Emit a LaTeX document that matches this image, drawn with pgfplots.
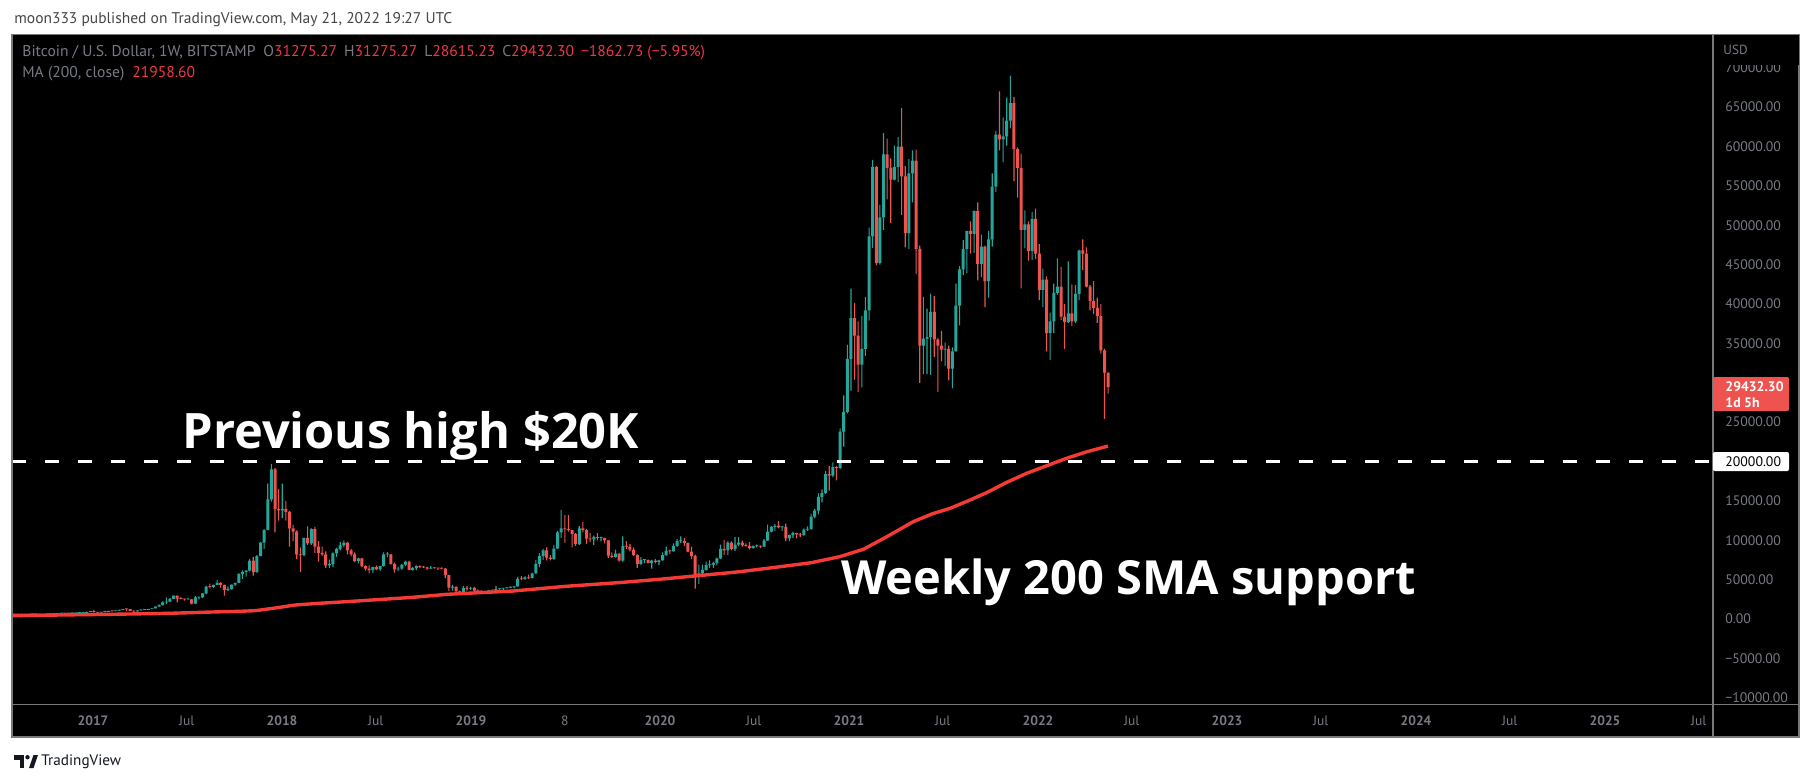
\documentclass[border=0pt]{standalone}
\usepackage{pgfplots}
\pgfplotsset{compat=1.18}
\usepackage{pgfplotstable}
\usepackage{fontspec}
\setmainfont{PT Sans}
\newfontfamily\annotfont{Open Sans}
\definecolor{tvup}{RGB}{38,166,154}
\definecolor{tvdown}{RGB}{239,83,80}
\definecolor{tvma}{RGB}{244,58,52}
\definecolor{tvgray}{RGB}{120,123,134}
\definecolor{tvline}{RGB}{120,120,120}
\definecolor{tvhead}{RGB}{70,70,70}
\definecolor{tvred}{RGB}{242,54,69}
\definecolor{tvlogo}{RGB}{19,23,34}

\pgfplotsset{tvax/.style={at={(6pt,-352.3pt)}, anchor=south west,
  scale only axis, width=850.5pt, height=334.95pt,
  xmin=2016.5714, xmax=2025.5714, ymin=-10870, ymax=74197}}
\newcommand{\wx}{2016.5832+\thisrow{w}*0.0191649}

\pgfplotstableread{
w o h l c
0 624 628 480 590
1 590 600 570 570
2 570 590 565 580
3 580 590 570 570
4 570 610 565 605
5 605 630 600 610
6 610 612 598 608
7 608 610 590 600
8 600 610 596 610
9 610 620 605 615
10 615 645 610 640
11 640 655 625 650
12 650 720 648 700
13 700 745 690 705
14 705 740 700 700
15 700 750 690 735
16 735 750 725 730
17 730 775 725 765
18 765 780 755 775
19 775 795 770 790
20 790 930 790 900
21 900 1000 890 990
22 990 1150 820 900
23 900 910 750 820
24 820 930 810 920
25 920 930 880 920
26 920 1030 915 1020
27 1020 1060 950 1000
28 1000 1060 990 1055
29 1055 1200 1050 1150
30 1150 1290 1140 1250
31 1250 1270 1000 1240
32 1240 1260 1070 1020
33 1020 1070 900 960
34 960 1100 950 1090
35 1090 1210 1080 1190
36 1190 1200 1160 1170
37 1170 1260 1160 1245
38 1245 1350 1240 1340
39 1340 1600 1340 1580
40 1580 1850 1550 1770
41 1770 2230 1740 2120
42 2120 2760 1900 2200
43 2200 2650 2150 2550
44 2550 2980 2550 2960
45 2960 2980 2100 2600
46 2600 2780 2500 2550
47 2550 2600 2350 2500
48 2500 2650 2450 2500
49 2500 2550 1850 1950
50 1950 2900 1920 2750
51 2750 2800 2500 2750
52 2750 3300 2650 3240
53 3240 4200 3200 4100
54 4100 4480 3900 4080
55 4080 4380 3950 4330
56 4330 4980 4300 4580
57 4580 4700 4000 4320
58 4320 4370 2970 3700
59 3700 4100 3550 3780
60 3780 4380 3740 4380
61 4380 4620 4200 4600
62 4600 5850 4600 5700
63 5700 6180 5100 5990
64 5990 6200 5380 6130
65 6130 7600 6050 7400
66 7400 7880 5500 5950
67 5950 8100 5850 8000
68 8000 9770 8000 9700
69 9700 11400 8900 11300
70 11300 17200 11300 15200
71 15200 19700 14900 19000
72 19000 19200 11000 14000
73 14000 16500 12500 13800
74 13800 17200 12800 14000
75 14000 15000 12500 13600
76 13600 13700 9200 11500
77 11500 11950 9900 11100
78 11100 11250 7600 8200
79 8200 9100 6000 8100
80 8100 10300 8000 10300
81 10300 11750 9400 9600
82 9600 11500 9400 11400
83 11400 11700 8400 9200
84 9200 9900 7300 8400
85 8400 9200 8000 8200
86 8200 8600 6500 6800
87 6800 7550 6450 7000
88 7000 8450 6600 8350
89 8350 9050 7900 8900
90 8900 9750 8700 9350
91 9350 9990 9100 9700
92 9700 9800 8200 8700
93 8700 8900 7950 8200
94 8200 8450 7250 7350
95 7350 7800 7050 7700
96 7700 7750 6600 6700
97 6700 6800 6150 6400
98 6400 6800 5800 6200
99 6200 6640 5830 6600
100 6600 6800 6220 6300
101 6300 6750 6100 6700
102 6700 8450 6650 8200
103 8200 8500 7850 8200
104 8200 8250 6900 7000
105 7000 7150 5900 6300
106 6300 6650 6100 6400
107 6400 7000 6250 6900
108 6900 7400 6700 7300
109 7300 7400 6200 6250
110 6250 6600 6150 6500
111 6500 6800 6200 6700
112 6700 6800 6450 6600
113 6600 6700 6500 6550
114 6550 6650 6200 6400
115 6400 6700 6400 6500
116 6500 6550 6400 6450
117 6450 6500 6250 6430
118 6430 6550 6350 6400
119 6400 6450 5200 5600
120 5600 5600 3550 4000
121 4000 4350 3600 4100
122 4100 4100 3300 3500
123 3500 3600 3220 3250
124 3250 4200 3230 3950
125 3950 4200 3600 3850
126 3850 4100 3660 3940
127 3940 4070 3450 3620
128 3620 3750 3500 3530
129 3530 3620 3450 3520
130 3520 3530 3380 3410
131 3410 3700 3380 3630
132 3630 3700 3550 3660
133 3660 4200 3650 3800
134 3800 3900 3710 3860
135 3860 3950 3700 3920
136 3920 4050 3850 4000
137 4000 4100 3950 4030
138 4030 4200 3900 4150
139 4150 5350 4100 5100
140 5100 5450 4950 5050
141 5050 5400 5000 5300
142 5300 5640 5100 5200
143 5200 5900 5150 5800
144 5800 7500 5700 7000
145 7000 8370 6600 8000
146 8000 8900 7500 8700
147 8700 9100 7450 7800
148 7800 8100 7450 7650
149 7650 9400 7500 8950
150 8950 11200 8950 11000
151 11000 13850 10300 11500
152 11500 13200 9700 11400
153 11400 13200 11100 11300
154 11300 11300 9100 10800
155 10800 10900 9300 9500
156 9500 11800 9400 11500
157 11500 12300 11000 11300
158 11300 11450 9500 10200
159 10200 10950 9800 10100
160 10100 10600 9400 10400
161 10400 10900 10000 10300
162 10300 10450 9900 10300
163 10300 10300 9600 10000
164 10000 10000 7750 8050
165 8050 8450 7750 7900
166 7900 8800 7800 8300
167 8300 8400 7300 7400
168 7400 10500 7300 9250
169 9250 9900 8900 9200
170 9200 9500 8600 8800
171 8800 9100 8000 8100
172 8100 8200 6500 7000
173 7000 7850 6850 7500
174 7500 7600 7100 7500
175 7500 7550 7050 7100
176 7100 7500 6400 7400
177 7400 7650 7050 7250
178 7250 7500 6850 7450
179 7450 8450 7400 8100
180 8100 9200 8050 8650
181 8650 8800 8250 8600
182 8600 9600 8550 9300
183 9300 10150 9150 9900
184 9900 10500 9650 9900
185 9900 10300 9300 9650
186 9650 9700 8500 8550
187 8550 9200 7600 8000
188 8000 8150 3850 5350
189 5350 6900 4450 5800
190 5800 6900 5700 6250
191 6250 7300 6150 6850
192 6850 7450 6500 6900
193 6900 7300 6500 7100
194 7100 7800 6800 7700
195 7700 9450 7650 8900
196 8900 10050 8150 8700
197 8700 9900 8100 9700
198 9700 9850 8700 8900
199 8900 10400 8650 9450
200 9450 10400 9250 9700
201 9700 9950 9200 9350
202 9350 9600 9200 9300
203 9300 9750 8850 9000
204 9000 9350 8950 9250
205 9250 9450 9100 9300
206 9300 9350 9000 9200
207 9200 10150 9150 9950
208 9950 12000 9950 11100
209 11100 11800 11000 11700
210 11700 12050 11200 11850
211 11850 12450 11500 11650
212 11650 11800 11200 11700
213 11700 12100 9900 10250
214 10250 10700 9900 10650
215 10650 11100 10300 10900
216 10900 10950 10250 10750
217 10750 10950 10400 10650
218 10650 11500 10550 11350
219 11350 11750 11200 11400
220 11400 13350 11350 13000
221 13000 14000 12800 13750
222 13750 15950 13300 15500
223 15500 16450 14800 16000
224 16000 18800 15900 18400
225 18400 19400 16300 18200
226 18200 19900 18000 19300
227 19300 19400 17600 19200
228 19200 24200 19000 23800
229 23800 28400 21900 26300
230 26300 34800 26100 33000
231 33000 41950 29000 38200
232 38200 40100 30400 36000
233 36000 37800 28800 32300
234 32300 38500 29400 34300
235 34300 40900 33400 39200
236 39200 49700 37900 48600
237 48600 58300 47100 57400
238 57400 57500 44900 45200
239 45200 52600 45000 51000
240 51000 61700 49400 59000
241 59000 61000 53300 57300
242 57300 58500 50300 55800
243 55800 60100 55700 57400
244 57400 61200 55500 60000
245 60000 64900 51300 56200
246 56200 57500 47200 49000
247 49000 58400 47000 56600
248 56600 59500 52900 58200
249 58200 59600 43800 47000
250 47000 47400 30000 34700
251 34700 40900 31100 35600
252 35600 39400 31100 35800
253 35800 41300 31000 39000
254 39000 41000 33300 35500
255 35500 35700 28800 34700
256 34700 36600 32700 34200
257 34200 35100 32100 34300
258 34300 34700 30300 31800
259 31800 34500 29300 34000
260 34000 42600 34000 39800
261 39800 44800 37300 44400
262 44400 48100 43700 47000
263 47000 49300 43900 49300
264 49300 50500 46400 48900
265 48900 51900 46500 51800
266 51800 52900 43000 45100
267 45100 48800 43400 47300
268 47300 47400 39600 42900
269 42900 49300 40800 48200
270 48200 56600 47300 54900
271 54900 62000 54200 61500
272 61500 67000 59500 60900
273 60900 63700 58000 61300
274 61300 66200 60100 63300
275 63300 69000 62300 65500
276 65500 66300 55600 59700
277 59700 59900 53500 57300
278 57300 59100 42000 49400
279 49400 51900 47100 50100
280 50100 50500 45500 46700
281 46700 51700 45600 50800
282 50800 52100 45700 46400
283 46400 47600 40500 41800
284 41800 44500 39600 43100
285 43100 43500 34000 36300
286 36300 38900 32900 37800
287 37800 42600 36300 41400
288 41400 45800 41200 42200
289 42200 44700 38000 38400
290 38400 40000 34300 37700
291 37700 45400 37600 38800
292 38800 42500 37200 37800
293 37800 42400 37600 41300
294 41300 46900 40500 46800
295 46800 48200 44300 46400
296 46400 47200 42100 42200
297 42200 42400 39200 40400
298 40400 42900 38700 39500
299 39500 40800 37600 38500
300 38500 40000 33700 34100
301 34100 34300 25400 31300
302 31275.27 31275.27 28615.23 29432.30
}\btc

\begin{document}
\begin{tikzpicture}
\begin{scope}[x=0.5pt,y=-0.5pt]
\path[use as bounding box] (0,0) rectangle (1813,783);
\fill[white] (0,0) rectangle (1813,783);
\fill[black] (12,34.7) rectangle (1799,737);
\end{scope}

% wicks: low (invisible) + range, stacked
\begin{axis}[tvax, hide axis, ybar stacked, bar width=0.55pt]
\addplot[draw=none, fill=none] table[x expr={\wx}, y expr={\thisrow{l}}] {\btc};
\addplot[draw=none, fill=tvup] table[x expr={\wx}, y expr={\thisrow{c}<\thisrow{o} ? 0 : \thisrow{h}-\thisrow{l}}] {\btc};
\addplot[draw=none, fill=tvdown] table[x expr={\wx}, y expr={\thisrow{c}<\thisrow{o} ? \thisrow{h}-\thisrow{l} : 0}] {\btc};
\end{axis}

% bodies: min(open,close) (invisible) + |close-open|, stacked
\begin{axis}[tvax, hide axis, ybar stacked, bar width=1.5pt]
\addplot[draw=none, fill=none] table[x expr={\wx}, y expr={min(\thisrow{o},\thisrow{c})}] {\btc};
\addplot[draw=none, fill=tvup] table[x expr={\wx}, y expr={\thisrow{c}<\thisrow{o} ? 0 : max(\thisrow{c}-\thisrow{o},100)}] {\btc};
\addplot[draw=none, fill=tvdown] table[x expr={\wx}, y expr={\thisrow{c}<\thisrow{o} ? max(\thisrow{o}-\thisrow{c},100) : 0}] {\btc};
\end{axis}

\begin{axis}[tvax,
  axis line style={draw=none}, major tick length=0pt,
  scaled y ticks=false, scaled x ticks=false,
  xtick={2017,2017.496,2018,2018.496,2019,2019.496,2020,2020.496,2021,2021.496,2022,2022.496,2023,2023.496,2024,2024.496,2025,2025.496},
  xticklabels={\textbf{2017},Jul,\textbf{2018},Jul,\textbf{2019},8,\textbf{2020},Jul,\textbf{2021},Jul,\textbf{2022},Jul,\textbf{2023},Jul,\textbf{2024},Jul,\textbf{2025},Jul},
  xticklabel style={anchor=center, inner sep=0pt, yshift=-8.25pt, text=tvgray, font=\fontsize{6.8pt}{7pt}\selectfont},
  ytick={-10000,-5000,0,5000,10000,15000,25000,35000,40000,45000,50000,55000,60000,65000,70000},
  yticklabels={−10000.00,−5000.00,0.00,5000.00,10000.00,15000.00,25000.00,35000.00,40000.00,45000.00,50000.00,55000.00,60000.00,65000.00,70000.00},
  yticklabel pos=right,
  yticklabel style={anchor=west, inner sep=0pt, xshift=6pt, text=tvgray, font=\fontsize{6.9pt}{7pt}\selectfont},
]
% 200-week moving average
\addplot[tvma, line width=1.7pt, line join=round] coordinates {
(2016.57,420) (2016.8,500) (2017.1,600) (2017.4,720) (2017.63,890) (2017.78,980)
(2017.86,1060) (2017.95,1350) (2018.07,1780) (2018.2,2000) (2018.34,2200)
(2018.5,2450) (2018.69,2750) (2018.87,3130) (2019.05,3350) (2019.22,3550)
(2019.5,4150) (2019.8,4650) (2020.0,5050) (2020.2,5500) (2020.42,6000)
(2020.635,6640) (2020.8,7150) (2020.95,7910) (2021.076,8850) (2021.2,10450)
(2021.34,12360) (2021.44,13350) (2021.534,14050) (2021.63,15000) (2021.728,16040)
(2021.83,17300) (2021.94,18500) (2022.05,19500) (2022.15,20400) (2022.26,21250)
(2022.37,21958.6)};
% previous high line
\addplot[white, line width=1.5pt, dash pattern=on 6.75pt off 9.75pt] coordinates {(2016.5714,20000) (2025.5714,20000)};
\end{axis}

\begin{scope}[x=0.5pt,y=-0.5pt]
% frame and dividers
\draw[tvline, line width=0.6pt] (12,34.7) rectangle (1799,737);
\draw[tvline, line width=0.6pt] (1713,34.7) -- (1713,737);
\draw[tvline, line width=0.6pt] (12,704.6) -- (1799,704.6);
% cover top of 70000 label
\fill[black] (1714,35.2) rectangle (1798.5,64.5);
\node[anchor=west, inner sep=0pt, text=tvgray, font=\fontsize{6.6pt}{7pt}\selectfont] at (1723,50) {USD};
% price boxes
\fill[tvdown, rounded corners=1pt] (1713,377) rectangle (1789,411);
\node[anchor=west, inner sep=0pt, text=white, font=\fontsize{6.9pt}{7pt}\selectfont\bfseries] at (1725,386.5) {29432.30};
\node[anchor=west, inner sep=0pt, text=white, font=\fontsize{6.9pt}{7pt}\selectfont\bfseries] at (1725,402.5) {1d 5h};
\fill[white, rounded corners=1pt] (1713,452) rectangle (1789,471);
\node[anchor=west, inner sep=0pt, text=black, font=\fontsize{6.9pt}{7pt}\selectfont] at (1725,461.5) {20000.00};
% header
\node[anchor=west, inner sep=0pt, text=tvhead, font=\fontsize{7.75pt}{8pt}\selectfont] at (14,19.7) {moon333 published on TradingView.com, May 21, 2022 19:27 UTC};
% legend
\node[anchor=west, inner sep=0pt, text=tvgray, font=\fontsize{7.8pt}{8pt}\selectfont] at (22,53) {Bitcoin / U.S. Dollar, 1W, BITSTAMP\hspace{4pt}O\textcolor{tvred}{31275.27}\hspace{3.5pt}H\textcolor{tvred}{31275.27}\hspace{3.5pt}L\textcolor{tvred}{28615.23}\hspace{3.5pt}C\textcolor{tvred}{29432.30}\hspace{3.5pt}\textcolor{tvred}{−1862.73 (−5.95\%)}};
\node[anchor=west, inner sep=0pt, text=tvgray, font=\fontsize{7.8pt}{8pt}\selectfont] at (22,74) {MA (200, close)\hspace{4pt}\textcolor{tvred}{21958.60}};
% annotations
\node[anchor=base west, inner sep=0pt, text=white, font=\annotfont\bfseries\fontsize{24.4pt}{28pt}\selectfont] at (182,448) {Previous high \$20K};
\node[anchor=base west, inner sep=0pt, text=white, font=\annotfont\bfseries\fontsize{23.5pt}{28pt}\selectfont] at (841,594) {Weekly 200 SMA support};
% watermark
\fill[tvlogo] (14,755) rectangle (24,759.5);
\fill[tvlogo] (19.5,755) rectangle (24,768);
\fill[tvlogo] (27.5,757.2) circle (2.2);
\fill[tvlogo] (29,768) -- (33.5,755) -- (38,755) -- (33.5,768) -- cycle;
\node[anchor=west, inner sep=0pt, text=tvlogo, font=\fontsize{7.6pt}{8pt}\selectfont] at (41,761.5) {TradingView};
\end{scope}
\end{tikzpicture}
\end{document}
